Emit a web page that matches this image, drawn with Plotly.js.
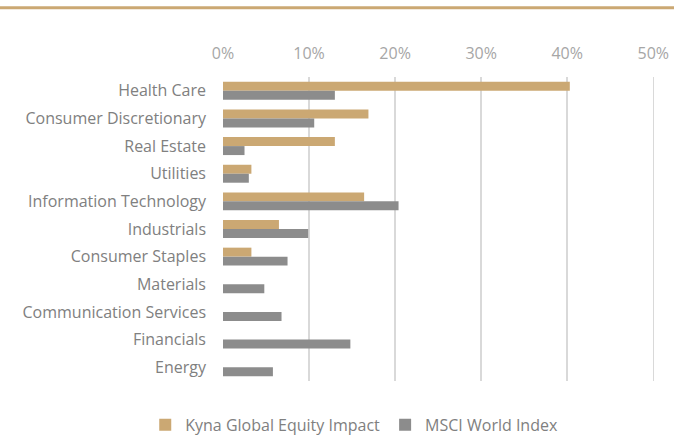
<!DOCTYPE html>
<html>
<head>
<meta charset="utf-8">
<script src="https://cdn.plot.ly/plotly-3.0.1.min.js"></script>
<style>html,body{margin:0;padding:0;background:#fff;}#chart{width:674px;height:436px;}</style>
</head>
<body>
<div id="chart"></div>
<script>
const categories = ["Health Care","Consumer Discretionary","Real Estate","Utilities","Information Technology","Industrials","Consumer Staples","Materials","Communication Services","Financials","Energy"];
const kynaValues = [40.3, 16.9, 13.0, 3.3, 16.4, 6.5, 3.3, 0, 0, 0, 0];
const msciValues = [13.0, 10.6, 2.5, 3.0, 20.4, 9.9, 7.5, 4.8, 6.8, 14.8, 5.8];
const tickVals = [0, 10, 20, 30, 40, 50];
const tickText = ["0%","10%","20%","30%","40%","50%"];

const font = "'Open Sans', Lato, sans-serif";
const traces = [
  {type:"bar", orientation:"h", name:"Kyna Global Equity Impact", y:categories, x:kynaValues,
   marker:{color:"#cba873"}},
  {type:"bar", orientation:"h", name:"MSCI World Index", y:categories, x:msciValues,
   marker:{color:"#8c8c8c"}}
];
const layout = {
  width:674, height:436,
  margin:{l:223, r:19, t:77, b:55, autoexpand:false},
  paper_bgcolor:"#fff", plot_bgcolor:"#fff",
  barmode:"group", bargap:0.35, bargroupgap:0,
  font:{family:font, color:"#808080", size:16},
  xaxis:{side:"top", range:[0,50.2], tickvals:tickVals, ticktext:tickText, automargin:false,
    showgrid:true, gridcolor:"#d9d9d9", gridwidth:1.5, zeroline:false, showline:false,
    ticks:"", ticklabelstandoff:14, tickfont:{color:"#a6a6a6", size:16, family:font}},
  yaxis:{autorange:"reversed", type:"category", showgrid:false, zeroline:false, showline:false, automargin:false,
    ticks:"", ticklabelstandoff:16, tickfont:{color:"#808080", size:16, family:font}},
  legend:{orientation:"h", x:-0.18, xanchor:"left", y:-0.088, yanchor:"top",
    font:{color:"#808080", size:16, family:font}, traceorder:"normal", itemwidth:30, itemgap:16},
  shapes:[{type:"line", xref:"paper", yref:"paper", x0:-0.93, x1:1.05, y0:1.228, y1:1.228,
    line:{color:"#cba873", width:3}}],
  showlegend:true
};
Plotly.newPlot("chart", traces, layout, {displayModeBar:false, staticPlot:true});
</script>
</body>
</html>
